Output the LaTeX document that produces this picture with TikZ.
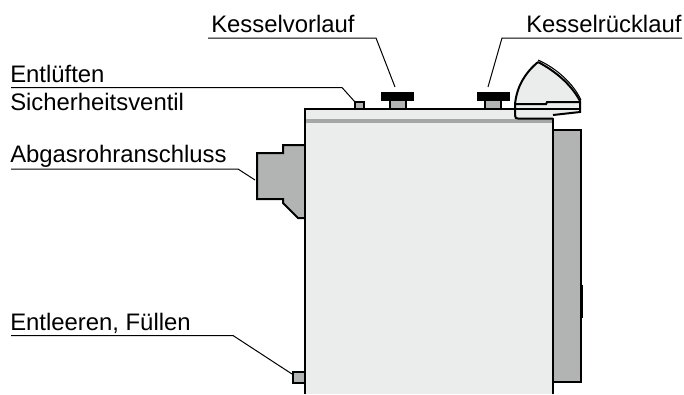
\documentclass[tikz,border=0pt]{standalone}
\usepackage{fontspec}
\setmainfont{Liberation Sans}
\definecolor{bodyfill}{HTML}{EBECEC}
\definecolor{partfill}{HTML}{B2B3B3}
\definecolor{bandfill}{HTML}{A5A6A6}
\tikzset{
  outline/.style={draw=black,line width=1.5pt,line join=miter},
  leader/.style={draw=black,line width=0.75pt},
  lbl/.style={anchor=base west,inner sep=0pt,font=\fontsize{17.9pt}{20pt}\selectfont,text=black},
}
\begin{document}
\begin{tikzpicture}[x=0.75pt,y=-0.75pt]
\useasboundingbox (0,0) rectangle (684,394);
% right box
\path[outline,fill=partfill] (553,130) -- (581,130) -- (581,382) -- (553,382) -- cycle;
\path[fill=black] (581,285) rectangle (583,318);
% flue
\path[outline,fill=partfill] (305,145) -- (283,145) -- (283,153) -- (257,153) -- (257,199) -- (283,199) -- (283,203) -- (298,218) -- (305,218) -- cycle;
% drain
\path[outline,fill=partfill] (305,372) -- (293,372) -- (293,383) -- (305,383) -- cycle;
% top fittings
\path[outline,fill=partfill] (355,109) -- (355,102) -- (364,102) -- (364,109);
\path[outline,fill=partfill] (390,109) -- (390,100) -- (406,100) -- (406,109);
\path[outline,fill=partfill] (485,109) -- (485,100) -- (501,100) -- (501,109);
\node[fill=black,inner sep=0pt,minimum width=24.75pt,minimum height=6.75pt] (knobA) at (397,96.5) {};
\node[fill=black,inner sep=0pt,minimum width=24.75pt,minimum height=6.75pt] (knobB) at (493,96.5) {};
% body
\path[fill=bodyfill] (305,109) rectangle (553,394);
\path[fill=bandfill] (305,119) rectangle (553,123);
\path[outline] (305,394) -- (305,109) -- (516,109);
\path[outline] (553,394) -- (553,118);
% handle
\path[fill=bodyfill] (515,118) -- (515,104) .. controls (517,86) and (525,73) .. (538,62) .. controls (555,71) and (571,84) .. (580,101) -- (580,112) -- (553,115) -- (553,119) -- (517,119) -- cycle;
\path[outline] (515,116) -- (515,104) .. controls (517,86) and (525,73) .. (538,62);
\path[outline] (538,62) .. controls (555,71) and (571,84) .. (580,101) -- (580,112) -- (553,115);
\path[draw=black,line width=0.8pt] (538,60) .. controls (556,68) and (573,83) .. (581,100);
\path[outline] (515,104) -- (546,104) -- (547,102) -- (580,102);
\path[outline] (515,109) -- (580,109);
\path[outline] (515,115) .. controls (515,118) and (516,118.5) .. (518,118.5) -- (553,118.5);
% labels
\node[lbl] (kv) at (211,32.5) {Kesselvorlauf};
\node[lbl] (kr) at (526,32.5) {Kesselrücklauf};
\node[lbl] (ent) at (10,82) {Entlüften};
\node[lbl] (sich) at (10,110) {Sicherheitsventil};
\node[lbl] (abg) at (10,162) {Abgasrohranschluss};
\node[lbl] (fue) at (10,330) {Entleeren, Füllen};
% leaders
\coordinate (kvA) at (208,38); \coordinate (kvB) at (376,38); \coordinate (kvC) at (395,87);
\draw[leader] (kvA) -- (kvB) -- (kvC);
\coordinate (krA) at (682,38); \coordinate (krB) at (502,38); \coordinate (krC) at (488,87);
\draw[leader] (krA) -- (krB) -- (krC);
\coordinate (entA) at (11,87.5); \coordinate (entB) at (342,87.5); \coordinate (entC) at (355,102);
\draw[leader] (entA) -- (entB) -- (entC);
\coordinate (abgA) at (11,169); \coordinate (abgB) at (238,169); \coordinate (abgC) at (255,180);
\draw[leader] (abgA) -- (abgB) -- (abgC);
\coordinate (fueA) at (11,335.5); \coordinate (fueB) at (233,335.5); \coordinate (fueC) at (292,374);
\draw[leader] (fueA) -- (fueB) -- (fueC);
\end{tikzpicture}
\end{document}
